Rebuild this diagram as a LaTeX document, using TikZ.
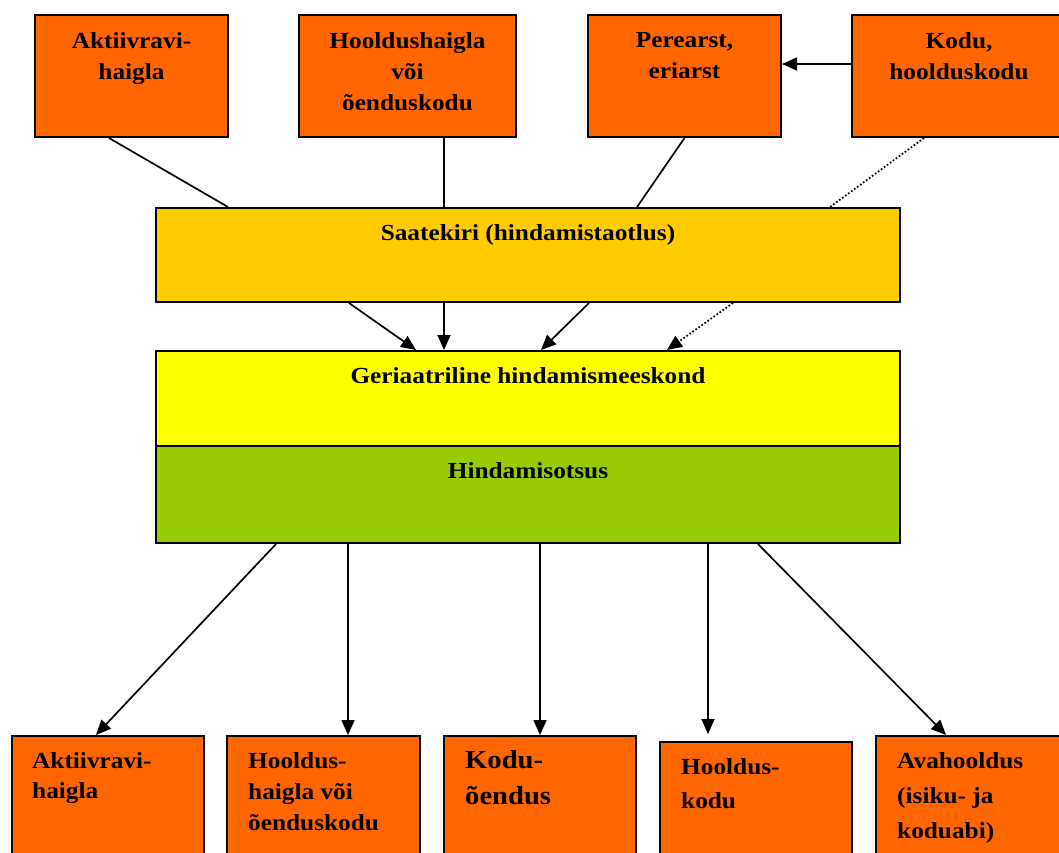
\documentclass[tikz,border=0pt]{standalone}
\usepackage{fontspec}
\setmainfont{Liberation Serif}[FakeStretch=1.1]
\usetikzlibrary{arrows.meta}
\definecolor{boxorange}{HTML}{FF6600}
\definecolor{boxamber}{HTML}{FFCC00}
\definecolor{boxyellow}{HTML}{FFFF00}
\definecolor{boxgreen}{HTML}{99CC00}
\begin{document}
\begin{tikzpicture}[x=1pt,y=-1pt,
  box/.style={draw=black, line width=2pt, anchor=north west, inner sep=0pt},
  src/.style={box, fill=boxorange, minimum height=122.5pt},
  dst/.style={box, fill=boxorange, minimum height=140pt},
  band/.style={box, minimum width=744pt},
  lbl/.style={font=\bfseries\fontsize{23}{31}\selectfont, inner sep=0pt},
  link/.style={line width=1.7pt},
  arr/.style={link, -{Triangle[length=15pt,width=13pt]}}]
  \useasboundingbox (0,0) rectangle (1059,852);
  \clip (0,0) rectangle (1059,852);
  \node[src, minimum width=193pt] (akt) at (34,13.5) {};
  \node[src, minimum width=217pt] (hh) at (298,13.5) {};
  \node[src, minimum width=193pt] (pere) at (587,13.5) {};
  \node[src, minimum width=214pt] (kodu) at (851,13.5) {};
  \node[lbl, align=center, anchor=north] at ([yshift=-19pt]akt.north) {Aktiivravi-\\haigla};
  \node[lbl, align=center, anchor=north] at ([yshift=-19pt]hh.north) {Hooldushaigla\\või\\õenduskodu};
  \node[lbl, align=center, anchor=north] at ([yshift=-19pt]pere.north) {Perearst,\\eriarst};
  \node[lbl, align=center, anchor=north] at ([yshift=-19pt]kodu.north) {Kodu,\\hoolduskodu};

  \node[band, fill=boxamber, minimum height=94pt] (saate) at (155,207) {};
  \node[band, fill=boxyellow, minimum height=95pt] (geria) at (155,350) {};
  \node[band, fill=boxgreen, minimum height=97pt] (otsus) at (155,445) {};
  \node[lbl, anchor=north] at ([yshift=-17.5pt]saate.north) {Saatekiri (hindamistaotlus)};
  \node[lbl, anchor=north] at ([yshift=-17.5pt]geria.north) {Geriaatriline hindamismeeskond};
  \node[lbl, anchor=north] at ([yshift=-17.5pt]otsus.north) {Hindamisotsus};

  \node[dst, minimum width=192pt] (b1) at (11,735) {};
  \node[dst, minimum width=193pt] (b2) at (226,735) {};
  \node[dst, minimum width=192pt] (b3) at (443,735) {};
  \node[dst, minimum width=192pt] (b4) at (659,741) {};
  \node[dst, minimum width=200pt] (b5) at (875,735) {};
  \node[lbl, align=left, anchor=north west, font=\bfseries\fontsize{23}{30}\selectfont] at ([xshift=21pt,yshift=-17pt]b1.north west) {Aktiivravi-\\haigla};
  \node[lbl, align=left, anchor=north west] at ([xshift=22pt,yshift=-17pt]b2.north west) {Hooldus-\\haigla või\\õenduskodu};
  \node[lbl, align=left, anchor=north west, font=\bfseries\fontsize{26}{36}\selectfont] at ([xshift=22pt,yshift=-15pt]b3.north west) {Kodu-\\õendus};
  \node[lbl, align=left, anchor=north west, font=\bfseries\fontsize{23}{34}\selectfont] at ([xshift=22pt,yshift=-17pt]b4.north west) {Hooldus-\\kodu};
  \node[lbl, align=left, anchor=north west, font=\bfseries\fontsize{23}{35}\selectfont] at ([xshift=22pt,yshift=-17pt]b5.north west) {Avahooldus\\(isiku- ja\\koduabi)};

  \draw[arr] ([yshift=11.75pt]kodu.west) -- ([yshift=11.75pt]pere.east);
  \draw[link] ([xshift=-22.5pt]akt.south) -- ([xshift=-300pt]saate.north);
  \draw[link] ([xshift=36.5pt]hh.south) -- ([xshift=-84pt]saate.north);
  \draw[link] (pere.south) -- ([xshift=109pt]saate.north);
  \draw[link, dotted] ([xshift=-35pt]kodu.south) -- ([xshift=302pt]saate.north);

  \draw[arr] ([xshift=-179pt]saate.south) -- ([xshift=-112pt]geria.north);
  \draw[arr] ([xshift=-84pt]saate.south) -- ([xshift=-84pt]geria.north);
  \draw[arr] ([xshift=61pt]saate.south) -- ([xshift=13pt]geria.north);
  \draw[arr, dotted] ([xshift=205pt]saate.south) -- ([xshift=139pt]geria.north);

  \draw[arr] ([xshift=-252pt]otsus.south) -- ([xshift=-12pt]b1.north);
  \draw[arr] ([xshift=-180pt]otsus.south) -- ([xshift=24.5pt]b2.north);
  \draw[arr] ([xshift=12pt]otsus.south) -- (b3.north);
  \draw[arr] ([xshift=180pt]otsus.south) -- ([xshift=-48pt,yshift=7pt]b4.north);
  \draw[arr] ([xshift=230pt]otsus.south) -- ([xshift=-30pt]b5.north);
\end{tikzpicture}
\end{document}
